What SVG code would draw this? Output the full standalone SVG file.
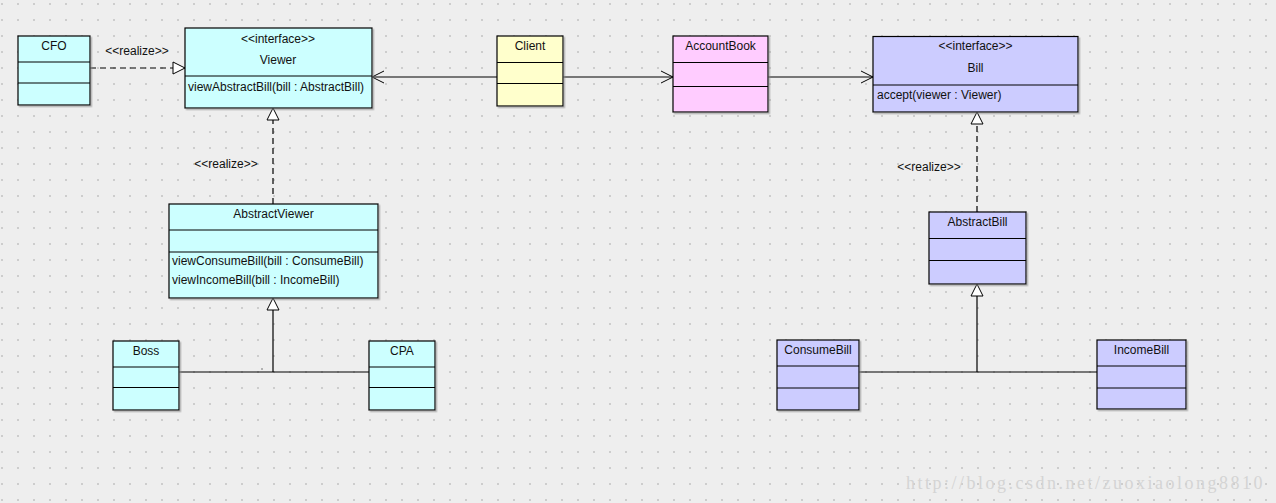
<svg xmlns="http://www.w3.org/2000/svg" width="1276" height="503" viewBox="0 0 1276 503">
<defs>
<pattern id="grid" x="1" y="3" width="16" height="16" patternUnits="userSpaceOnUse">
<rect x="0" y="0" width="2" height="2" fill="#cdcdcd"/>
</pattern>
<filter id="sh" x="-5%" y="-5%" width="115%" height="115%">
<feDropShadow dx="1.5" dy="1.5" stdDeviation="0.6" flood-color="#888" flood-opacity="0.6"/>
</filter>
<marker id="open" viewBox="0 0 14 14" refX="13" refY="7" markerWidth="14" markerHeight="14" markerUnits="userSpaceOnUse" orient="auto">
<path d="M1,1 L13,7 L1,13" fill="none" stroke="#000" stroke-width="1"/>
</marker>
<marker id="tri" viewBox="0 0 14 14" refX="13" refY="7" markerWidth="14" markerHeight="14" markerUnits="userSpaceOnUse" orient="auto">
<path d="M1,1 L13,7 L1,13 Z" fill="#fff" stroke="#000" stroke-width="1"/>
</marker>
</defs>
<style>
.box{stroke:#000;stroke-width:1.2;filter:url(#sh)}
.cy{fill:#ccffff}.ye{fill:#ffffcc}.pk{fill:#ffccff}.lv{fill:#ccccff}
.sep{stroke:#000;stroke-width:1}
text{font-family:"Liberation Sans",Arial,sans-serif;font-size:12px;fill:#111}
.c{text-anchor:middle}
.ln{stroke:#000;stroke-width:1.2;fill:none}
.dash{stroke-dasharray:6,4}
.wm{font-family:"Liberation Serif","DejaVu Serif",serif;font-size:18px;letter-spacing:2.5px;fill:#d4d4d4}
</style>
<rect width="1276" height="503" fill="#eeeeee"/>
<rect width="1276" height="503" fill="url(#grid)"/>

<g id="connectors">
<line class="ln dash" x1="90" y1="68" x2="185" y2="68" marker-end="url(#tri)"/>
<text class="c" x="137" y="55">&lt;&lt;realize&gt;&gt;</text>
<line class="ln" x1="497" y1="77" x2="372" y2="77" marker-end="url(#open)"/>
<line class="ln" x1="563" y1="77" x2="673" y2="77" marker-end="url(#open)"/>
<line class="ln" x1="768" y1="77" x2="873" y2="77" marker-end="url(#open)"/>
<line class="ln dash" x1="273" y1="204" x2="273" y2="108" marker-end="url(#tri)"/>
<text class="c" x="226" y="168">&lt;&lt;realize&gt;&gt;</text>
<line class="ln" x1="179" y1="372" x2="369" y2="372"/>
<line class="ln" x1="273" y1="372" x2="273" y2="298" marker-end="url(#tri)"/>
<rect x="261.5" y="368.5" width="1" height="1" fill="#000"/>
<line class="ln dash" x1="977" y1="212" x2="977" y2="112" marker-end="url(#tri)"/>
<text class="c" x="929" y="171">&lt;&lt;realize&gt;&gt;</text>
<line class="ln" x1="859" y1="372" x2="1097" y2="372"/>
<line class="ln" x1="977" y1="372" x2="977" y2="284" marker-end="url(#tri)"/>
</g>

<g id="CFO">
<rect class="box cy" x="18" y="36" width="72" height="69"/>
<line class="sep" x1="18" y1="62" x2="90" y2="62"/>
<line class="sep" x1="18" y1="83" x2="90" y2="83"/>
<text class="c" x="54" y="50">CFO</text>
</g>

<g id="Viewer">
<rect class="box cy" x="185" y="28" width="187" height="80"/>
<line class="sep" x1="185" y1="76" x2="372" y2="76"/>
<text class="c" x="278" y="43">&lt;&lt;interface&gt;&gt;</text>
<text class="c" x="278" y="64">Viewer</text>
<text x="188" y="91">viewAbstractBill(bill : AbstractBill)</text>
</g>

<g id="Client">
<rect class="box ye" x="497" y="36" width="66" height="70"/>
<line class="sep" x1="497" y1="62.5" x2="563" y2="62.5"/>
<line class="sep" x1="497" y1="83.5" x2="563" y2="83.5"/>
<text class="c" x="530" y="50">Client</text>
</g>

<g id="AccountBook">
<rect class="box pk" x="673" y="36" width="95" height="76"/>
<line class="sep" x1="673" y1="62.5" x2="768" y2="62.5"/>
<line class="sep" x1="673" y1="86.5" x2="768" y2="86.5"/>
<text class="c" x="720.5" y="50">AccountBook</text>
</g>

<g id="Bill">
<rect class="box lv" x="873" y="36.5" width="205" height="75.5"/>
<line class="sep" x1="873" y1="85" x2="1078" y2="85"/>
<text class="c" x="975.5" y="50">&lt;&lt;interface&gt;&gt;</text>
<text class="c" x="975.5" y="72">Bill</text>
<text x="877" y="99">accept(viewer : Viewer)</text>
</g>

<g id="AbstractViewer">
<rect class="box cy" x="169" y="204" width="209" height="94"/>
<line class="sep" x1="169" y1="230" x2="378" y2="230"/>
<line class="sep" x1="169" y1="252" x2="378" y2="252"/>
<text class="c" x="273.5" y="218">AbstractViewer</text>
<text x="172" y="265">viewConsumeBill(bill : ConsumeBill)</text>
<text x="172" y="284">viewIncomeBill(bill : IncomeBill)</text>
</g>

<g id="Boss">
<rect class="box cy" x="113" y="341" width="66" height="69"/>
<line class="sep" x1="113" y1="367" x2="179" y2="367"/>
<line class="sep" x1="113" y1="387.5" x2="179" y2="387.5"/>
<text class="c" x="146" y="355">Boss</text>
</g>

<g id="CPA">
<rect class="box cy" x="369" y="341" width="66" height="69"/>
<line class="sep" x1="369" y1="367" x2="435" y2="367"/>
<line class="sep" x1="369" y1="387.5" x2="435" y2="387.5"/>
<text class="c" x="402" y="355">CPA</text>
</g>

<g id="AbstractBill">
<rect class="box lv" x="929" y="212" width="97" height="72"/>
<line class="sep" x1="929" y1="238.5" x2="1026" y2="238.5"/>
<line class="sep" x1="929" y1="260.5" x2="1026" y2="260.5"/>
<text class="c" x="977.5" y="226">AbstractBill</text>
</g>

<g id="ConsumeBill">
<rect class="box lv" x="777" y="340" width="82" height="70"/>
<line class="sep" x1="777" y1="366" x2="859" y2="366"/>
<line class="sep" x1="777" y1="388" x2="859" y2="388"/>
<text class="c" x="818" y="354">ConsumeBill</text>
</g>

<g id="IncomeBill">
<rect class="box lv" x="1097" y="340" width="89" height="69"/>
<line class="sep" x1="1097" y1="366" x2="1186" y2="366"/>
<line class="sep" x1="1097" y1="388" x2="1186" y2="388"/>
<text class="c" x="1141.5" y="354">IncomeBill</text>
</g>

<text class="wm" x="1265" y="489" text-anchor="end">http://blog.csdn.net/zuoxiaolong8810</text>
</svg>
